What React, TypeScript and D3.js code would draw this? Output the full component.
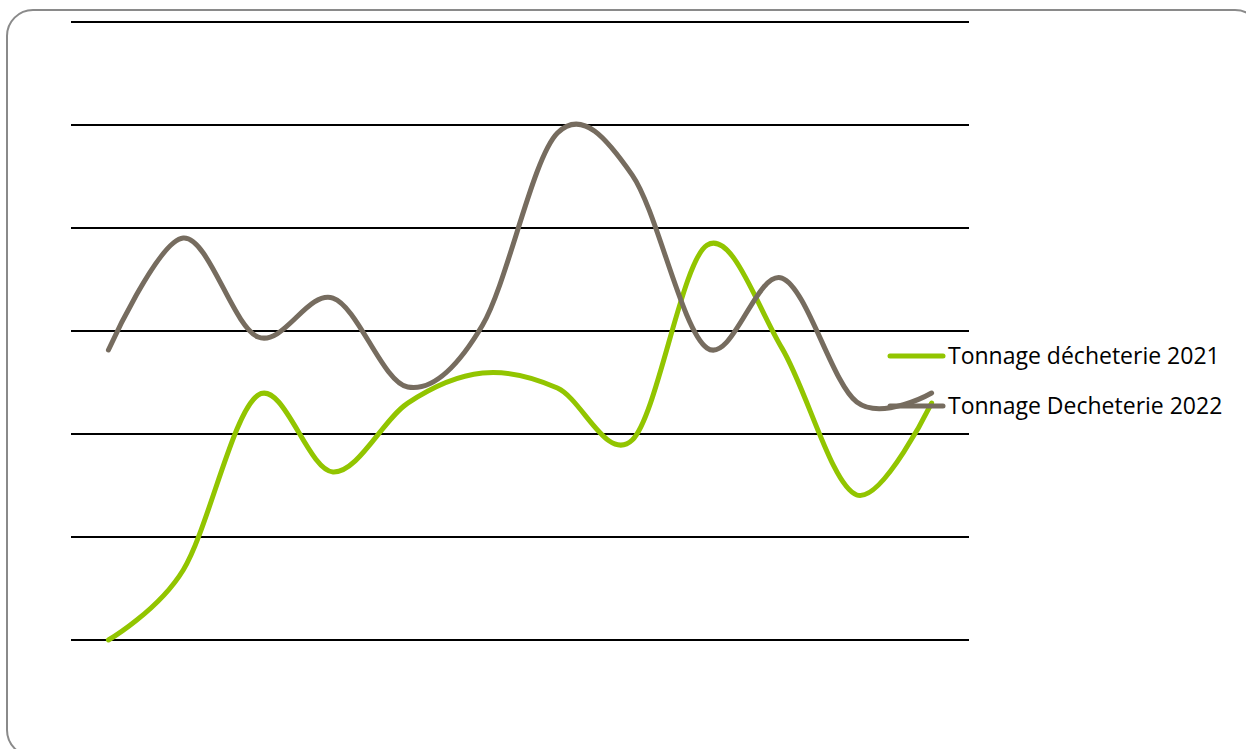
import React from "react";
import * as d3 from "d3";

const months = ["Jan", "Fév", "Mar", "Avr", "Mai", "Juin", "Juil", "Août", "Sep", "Oct", "Nov", "Déc"];
const tonnage2021 = [0, 34, 118.9, 81.6, 115, 129.6, 122.3, 97.1, 191.7, 141.7, 70.4, 115];
const tonnage2022 = [140.8, 195.1, 147.1, 166, 122.8, 152.9, 246.1, 225.7, 141.7, 175.7, 115.5, 119.9];
const yTicks = [0, 50, 100, 150, 200, 250, 300];
const seriesNames = ["Tonnage décheterie 2021", "Tonnage Decheterie 2022"];
const seriesColors = ["#92C500", "#766C5F"];

const W = 1246;
const H = 749;
const plot = { left: 71, right: 969, top: 22, bottom: 640 };

export default function App() {
  const x = d3.scaleBand<string>().domain(months).range([plot.left, plot.right]);
  const y = d3.scaleLinear().domain([0, 300]).range([plot.bottom, plot.top]);
  const line = d3
    .line<number>()
    .x((_, i) => (x(months[i]) as number) + x.bandwidth() / 2)
    .y((d) => y(d))
    .curve(d3.curveCardinal.tension(0));
  const series = [tonnage2021, tonnage2022];

  return (
    <svg
      width={W}
      height={H}
      style={{ position: "fixed", left: 0, top: 0, display: "block", background: "#fff" }}
    >
      <rect x={7} y={10} width={1254} height={746} rx={26} ry={26} fill="#fff" stroke="#8A8A8A" strokeWidth={2} />
      {yTicks.map((t) => (
        <line key={t} x1={plot.left} x2={plot.right} y1={y(t)} y2={y(t)} stroke="#000" strokeWidth={2} />
      ))}
      {series.map((s, i) => (
        <path
          key={i}
          d={line(s) || ""}
          fill="none"
          stroke={seriesColors[i]}
          strokeWidth={5}
          strokeLinecap="round"
          strokeLinejoin="round"
        />
      ))}
      {seriesNames.map((n, i) => {
        const ly = 356 + i * 50;
        return (
          <g key={n}>
            <line x1={890} x2={943} y1={ly} y2={ly} stroke={seriesColors[i]} strokeWidth={5} strokeLinecap="round" />
            <text
              x={948}
              y={ly + 8}
              fontFamily="'Open Sans', sans-serif"
              fontSize={23}
              fill="#000"
            >
              {n}
            </text>
          </g>
        );
      })}
    </svg>
  );
}
